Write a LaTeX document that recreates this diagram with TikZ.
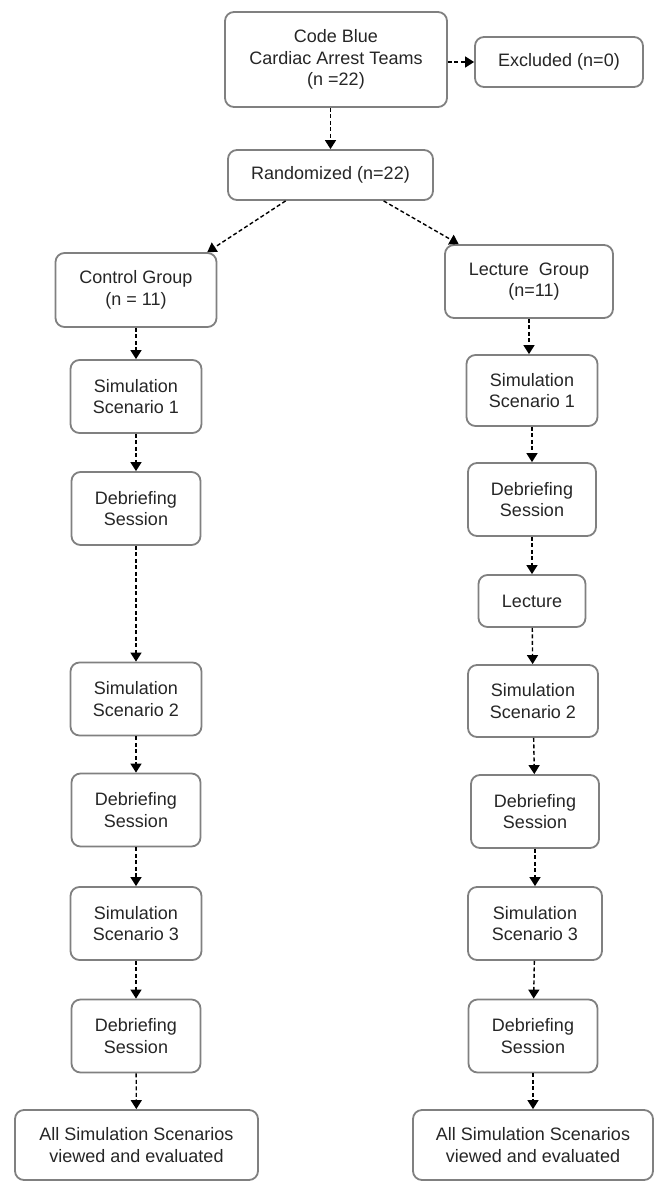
\documentclass[tikz,border=0pt]{standalone}
\usepackage{fontspec}
\setmainfont{Liberation Sans}
\usetikzlibrary{arrows.meta}
\definecolor{boxgray}{HTML}{808080}
\definecolor{textgray}{HTML}{262626}

\begin{document}
\begin{tikzpicture}[x=1pt,y=-1pt,
  box/.style={draw=boxgray,line width=1.8pt,rounded corners=9pt,fill=white,
    align=center,text=textgray,inner sep=0pt,font=\fontsize{18}{21.5}\selectfont},
  stepbox/.style={box,minimum width=131pt,minimum height=73pt},
  flow/.style={black,line width=1.4pt,dash pattern=on 4pt off 2.5pt,
    -{Triangle[length=9pt,width=11pt]}}]

  \useasboundingbox (0,0) rectangle (654,1181);

  % top of the chart
  \draw (336,59.5) node (code) [box,minimum width=222pt,minimum height=95pt] {Code Blue\\Cardiac Arrest Teams\\(n =22)};
  \draw (559,62) node (excl) [box,minimum width=168pt,minimum height=50pt] {Excluded (n=0)};
  \draw (330.5,175) node (rand) [box,minimum width=205pt,minimum height=50pt] {Randomized (n=22)};

  \draw[flow] (code.east |- excl.west) -- (excl.west);
  \draw[flow] (code.south -| rand.north) -- (rand.north);

  % control group
  \draw (136,290) node (ctrl) [box,minimum width=161pt,minimum height=74pt] {Control Group\\(n = 11)};
  \draw (136,396.5) node (simA1) [stepbox] {Simulation\\Scenario 1};
  \draw (136,508.5) node (debA1) [stepbox,minimum width=129pt] {Debriefing\\Session};
  \draw (136,699) node (simA2) [stepbox] {Simulation\\Scenario 2};
  \draw (136,810) node (debA2) [stepbox,minimum width=129pt] {Debriefing\\Session};
  \draw (136,923.5) node (simA3) [stepbox] {Simulation\\Scenario 3};
  \draw (136,1036) node (debA3) [stepbox,minimum width=129pt] {Debriefing\\Session};
  \draw (136.5,1145) node (allA) [box,minimum width=243pt,minimum height=70pt] {All Simulation Scenarios\\viewed and evaluated};

  % lecture group
  \draw (529,281.5) node (lect) [box,minimum width=168pt,minimum height=73pt] {Lecture\ \ Group\\\ \ (n=11)};
  \draw (532,390.5) node (simB1) [stepbox,minimum height=71pt] {Simulation\\Scenario 1};
  \draw (532,499.5) node (debB1) [stepbox,minimum width=128pt] {Debriefing\\Session};
  \draw (532,601) node (lecB) [box,minimum width=107pt,minimum height=52pt] {Lecture};
  \draw (533,701) node (simB2) [stepbox,minimum width=130pt,minimum height=72pt] {Simulation\\Scenario 2};
  \draw (535,811.5) node (debB2) [stepbox,minimum width=128pt] {Debriefing\\Session};
  \draw (535,923.5) node (simB3) [stepbox,minimum width=134pt] {Simulation\\Scenario 3};
  \draw (533,1036) node (debB3) [stepbox,minimum width=129pt] {Debriefing\\Session};
  \draw (533,1145) node (allB) [box,minimum width=240pt,minimum height=70pt] {All Simulation Scenarios\\viewed and evaluated};

  \draw[flow] (rand.210) -- (ctrl.28);
  \draw[flow] (rand.334) -- (lect.152);

  \draw[flow] (ctrl) -- (simA1);
  \draw[flow] (simA1) -- (debA1);
  \draw[flow] (debA1) -- (simA2);
  \draw[flow] (simA2) -- (debA2);
  \draw[flow] (debA2) -- (simA3);
  \draw[flow] (simA3) -- (debA3);
  \draw[flow] (debA3) -- (allA);

  \draw[flow] (lect.south) -- (lect.south |- simB1.north);
  \draw[flow] (simB1) -- (debB1);
  \draw[flow] (debB1) -- (lecB);
  \draw[flow] (lecB) -- (simB2);
  \draw[flow] (simB2) -- (debB2);
  \draw[flow] (debB2) -- (simB3);
  \draw[flow] (simB3) -- (debB3);
  \draw[flow] (debB3) -- (allB);

\end{tikzpicture}
\end{document}
